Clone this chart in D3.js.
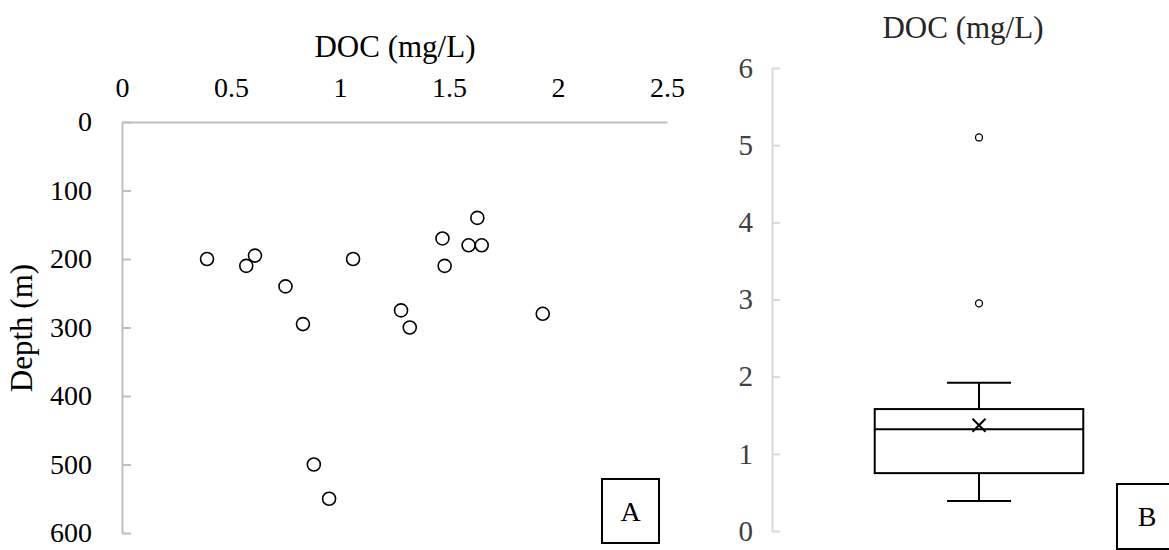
<!DOCTYPE html>
<html>
<head>
<meta charset="utf-8">
<script src="https://cdn.jsdelivr.net/npm/d3@7"></script>
<style>
  body { margin: 0; background: #fff; }
  svg { font-family: "Liberation Serif", "Times New Roman", serif; }
</style>
</head>
<body>
<svg id="chart" width="1169" height="550"></svg>
<script>
// panel A: DOC vs depth
const docValues = [0.39, 0.57, 0.61, 0.75, 0.83, 1.06, 1.28, 1.32, 1.47, 1.48, 1.59, 1.63, 1.65, 1.93, 0.88, 0.95];
const depthValues = [200, 210, 195, 240, 295, 200, 275, 300, 170, 210, 180, 140, 180, 280, 500, 550];
const docTicks = [0, 0.5, 1, 1.5, 2, 2.5];
const depthTicks = [0, 100, 200, 300, 400, 500, 600];

// panel B: box plot of DOC
const boxCategories = ["DOC"];
const boxStats = [{min: 0.39, q1: 0.75, median: 1.32, q3: 1.58, max: 1.92, mean: 1.37}];
const boxOutliers = [2.95, 5.1];
const boxTicks = [0, 1, 2, 3, 4, 5, 6];

const svg = d3.select("#chart");
const axisColor = "#bfbfbf";
const tickFont = "28px";
const titleFont = "31px";

// ---------- panel A ----------
const x = d3.scaleLinear().domain([0, 2.5]).range([122, 667]);
const y = d3.scaleLinear().domain([0, 600]).range([122, 533]);

const xAxis = svg.append("g")
    .attr("transform", "translate(0,122)")
    .call(d3.axisTop(x).tickValues(docTicks).tickSize(0).tickPadding(25).tickFormat(d3.format("")));

const yAxis = svg.append("g")
    .attr("transform", "translate(122,0)")
    .call(d3.axisLeft(y).tickValues(depthTicks).tickSize(-9).tickSizeOuter(0).tickPadding(30));

[xAxis, yAxis].forEach(g => {
    g.select(".domain").attr("stroke", axisColor).attr("stroke-width", 2);
    g.selectAll(".tick line").attr("stroke", axisColor).attr("stroke-width", 2);
    g.selectAll("text").attr("fill", "#000").style("font-size", tickFont).style("font-family", "Liberation Serif");
});

svg.append("text")
    .attr("x", 395).attr("y", 57)
    .attr("text-anchor", "middle")
    .style("font-size", titleFont)
    .text("DOC (mg/L)");

svg.append("text")
    .attr("transform", "translate(32,328) rotate(-90)")
    .attr("text-anchor", "middle")
    .style("font-size", titleFont)
    .text("Depth (m)");

svg.append("g")
    .selectAll("circle")
    .data(docValues)
    .join("circle")
    .attr("cx", d => x(d))
    .attr("cy", (d, i) => y(depthValues[i]))
    .attr("r", 6.5)
    .attr("fill", "#fff")
    .attr("stroke", "#000")
    .attr("stroke-width", 1.6);

// label A
svg.append("rect").attr("x", 602).attr("y", 479).attr("width", 57).attr("height", 64)
    .attr("fill", "#fff").attr("stroke", "#000").attr("stroke-width", 2);
svg.append("text").attr("x", 630.5).attr("y", 521).attr("text-anchor", "middle")
    .style("font-size", tickFont).text("A");

// ---------- panel B ----------
const bx = d3.scaleBand().domain(boxCategories).range([772, 1186]).padding(0.33);
const by = d3.scaleLinear().domain([0, 6]).range([531, 68]);

const byAxis = svg.append("g")
    .attr("transform", "translate(772,0)")
    .call(d3.axisLeft(by).tickValues(boxTicks).tickSize(-8).tickSizeOuter(0).tickPadding(19).tickFormat(d3.format("d")));
byAxis.select(".domain").attr("stroke", "#d9d9d9").attr("stroke-width", 2);
byAxis.selectAll(".tick line").attr("stroke", "#d9d9d9").attr("stroke-width", 2);
byAxis.selectAll("text").attr("fill", "#404040").style("font-size", "29px").style("font-family", "Liberation Serif");

svg.append("text")
    .attr("x", 963).attr("y", 38)
    .attr("text-anchor", "middle")
    .attr("fill", "#262626")
    .style("font-size", titleFont)
    .text("DOC (mg/L)");

const box = svg.append("g").selectAll("g").data(boxStats).join("g");
const cx = (d, i) => bx(boxCategories[i]) + bx.bandwidth() / 2;
const capHalf = 32;

box.append("line")
    .attr("x1", cx).attr("x2", cx)
    .attr("y1", d => by(d.max)).attr("y2", d => by(d.q3))
    .attr("stroke", "#000").attr("stroke-width", 2);
box.append("line")
    .attr("x1", cx).attr("x2", cx)
    .attr("y1", d => by(d.q1)).attr("y2", d => by(d.min))
    .attr("stroke", "#000").attr("stroke-width", 2);
box.append("line")
    .attr("x1", (d, i) => cx(d, i) - capHalf).attr("x2", (d, i) => cx(d, i) + capHalf)
    .attr("y1", d => by(d.max)).attr("y2", d => by(d.max))
    .attr("stroke", "#000").attr("stroke-width", 2);
box.append("line")
    .attr("x1", (d, i) => cx(d, i) - capHalf).attr("x2", (d, i) => cx(d, i) + capHalf)
    .attr("y1", d => by(d.min)).attr("y2", d => by(d.min))
    .attr("stroke", "#000").attr("stroke-width", 2);
box.append("rect")
    .attr("x", (d, i) => bx(boxCategories[i]))
    .attr("width", bx.bandwidth())
    .attr("y", d => by(d.q3))
    .attr("height", d => by(d.q1) - by(d.q3))
    .attr("fill", "none").attr("stroke", "#000").attr("stroke-width", 2);
box.append("line")
    .attr("x1", (d, i) => bx(boxCategories[i])).attr("x2", (d, i) => bx(boxCategories[i]) + bx.bandwidth())
    .attr("y1", d => by(d.median)).attr("y2", d => by(d.median))
    .attr("stroke", "#000").attr("stroke-width", 2);
box.append("path")
    .attr("d", (d, i) => {
        const px = cx(d, i), py = by(d.mean), s = 6.5;
        return `M${px - s},${py - s}L${px + s},${py + s}M${px - s},${py + s}L${px + s},${py - s}`;
    })
    .attr("stroke", "#000").attr("stroke-width", 2);

svg.append("g")
    .selectAll("circle")
    .data(boxOutliers)
    .join("circle")
    .attr("cx", cx(null, 0))
    .attr("cy", d => by(d))
    .attr("r", 3.5)
    .attr("fill", "#fff")
    .attr("stroke", "#000")
    .attr("stroke-width", 1.3);

// label B
svg.append("rect").attr("x", 1117).attr("y", 484).attr("width", 62).attr("height", 65)
    .attr("fill", "#fff").attr("stroke", "#000").attr("stroke-width", 2);
svg.append("text").attr("x", 1147).attr("y", 526).attr("text-anchor", "middle")
    .style("font-size", tickFont).text("B");
</script>
</body>
</html>
